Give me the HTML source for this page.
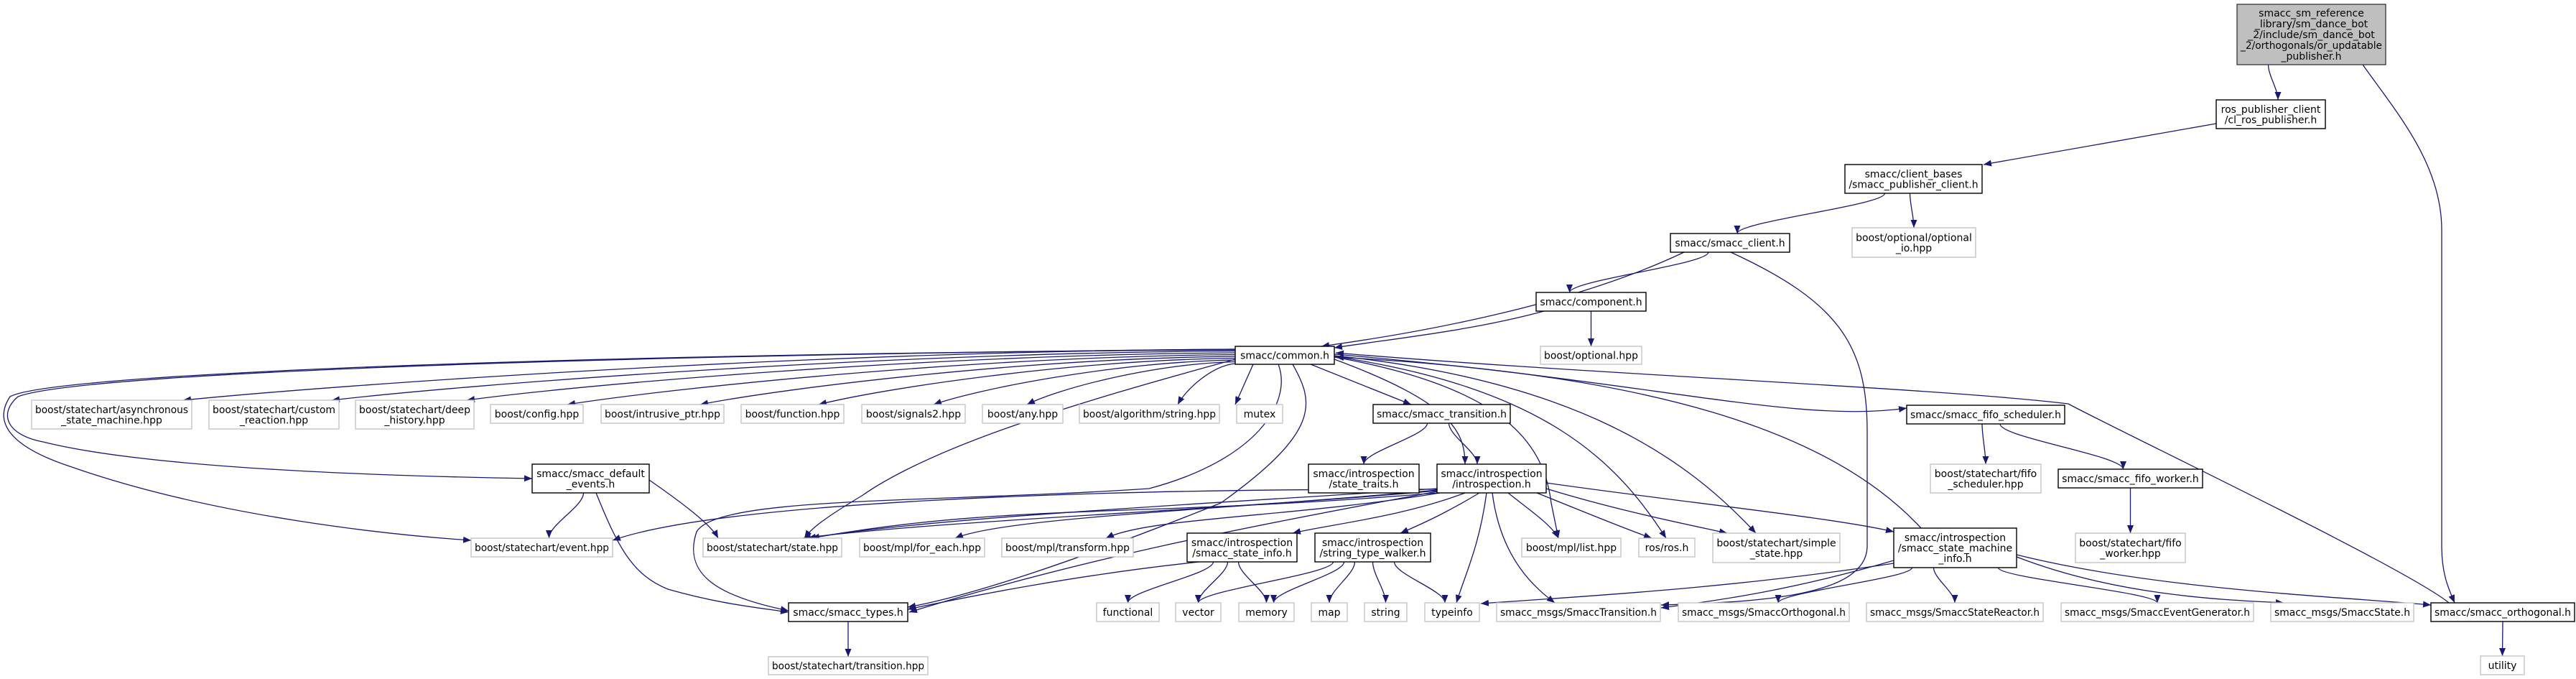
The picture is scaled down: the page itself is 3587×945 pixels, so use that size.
<!DOCTYPE html>
<html><head><meta charset="utf-8"><style>
html,body{margin:0;padding:0;background:#fff;width:3587px;height:945px;overflow:hidden}
svg text{font-family:"DejaVu Sans","Liberation Sans",sans-serif;font-size:14px;fill:#000}
</style></head><body>
<svg id="g" xmlns="http://www.w3.org/2000/svg" width="3587" height="945" viewBox="0 0 3587 945">
<defs><marker id="a" markerUnits="userSpaceOnUse" markerWidth="12" markerHeight="9" refX="11" refY="4.5" orient="auto"><path d="M0,0 L11,4.5 L0,9 z" fill="#191970"/></marker></defs>
<g id="e" fill="none" stroke="#191970" stroke-width="1.3"></g>
<g id="n"></g>
</svg>
<script>
var N={
top:[3115,6,3322,90,["smacc_sm_reference","_library/sm_dance_bot","_2/include/sm_dance_bot","_2/orthogonals/or_updatable","_publisher.h"],'r'],
rospub:[3086,139,3238,179,["ros_publisher_client","/cl_ros_publisher.h"],'b'],
cb:[2569,229,2760,269,["smacc/client_bases","/smacc_publisher_client.h"],'b'],
optio:[2579,317,2751,358,["boost/optional/optional","_io.hpp"],'g'],
client:[2326,325,2492,351,["smacc/smacc_client.h"],'b'],
comp:[2139,407,2292,433,["smacc/component.h"],'b'],
bopt:[2145,482,2286,507,["boost/optional.hpp"],'g'],
common:[1720,482,1858,507,["smacc/common.h"],'b'],
async:[44,557,267,597,["boost/statechart/asynchronous","_state_machine.hpp"],'g'],
custom:[291,557,472,597,["boost/statechart/custom","_reaction.hpp"],'g'],
deep:[495,557,660,597,["boost/statechart/deep","_history.hpp"],'g'],
config:[683,563,812,589,["boost/config.hpp"],'g'],
intr:[837,563,1008,589,["boost/intrusive_ptr.hpp"],'g'],
func:[1032,563,1175,589,["boost/function.hpp"],'g'],
sig:[1200,563,1344,589,["boost/signals2.hpp"],'g'],
any:[1368,563,1480,589,["boost/any.hpp"],'g'],
alg:[1503,563,1698,589,["boost/algorithm/string.hpp"],'g'],
mutex:[1722,563,1786,589,["mutex"],'g'],
trans:[1912,563,2103,589,["smacc/smacc_transition.h"],'b'],
fifos:[2655,564,2875,590,["smacc/smacc_fifo_scheduler.h"],'b'],
traits:[1822,646,1976,686,["smacc/introspection","/state_traits.h"],'b'],
intro:[2001,646,2153,686,["smacc/introspection","/introspection.h"],'b'],
defev:[741,646,904,686,["smacc/smacc_default","_events.h"],'b'],
fifosh:[2688,646,2842,686,["boost/statechart/fifo","_scheduler.hpp"],'g'],
fifow:[2866,653,3067,679,["smacc/smacc_fifo_worker.h"],'b'],
event:[656,749,853,775,["boost/statechart/event.hpp"],'g'],
state:[979,749,1172,775,["boost/statechart/state.hpp"],'g'],
foreach:[1197,749,1371,775,["boost/mpl/for_each.hpp"],'g'],
transform:[1395,749,1578,775,["boost/mpl/transform.hpp"],'g'],
sinfo:[1653,742,1806,782,["smacc/introspection","/smacc_state_info.h"],'b'],
stw:[1831,742,1992,782,["smacc/introspection","/string_type_walker.h"],'b'],
list:[2119,749,2257,775,["boost/mpl/list.hpp"],'g'],
ros:[2282,749,2360,775,["ros/ros.h"],'g'],
simple:[2385,742,2562,783,["boost/statechart/simple","_state.hpp"],'g'],
smi:[2637,735,2808,790,["smacc/introspection","/smacc_state_machine","_info.h"],'b'],
fifowh:[2890,742,3043,783,["boost/statechart/fifo","_worker.hpp"],'g'],
types:[1098,839,1264,865,["smacc/smacc_types.h"],'b'],
functional:[1527,839,1614,865,["functional"],'g'],
vector:[1637,839,1700,865,["vector"],'g'],
memory:[1725,839,1802,865,["memory"],'g'],
map:[1826,839,1876,865,["map"],'g'],
string:[1900,839,1959,865,["string"],'g'],
typeinfo:[1984,839,2060,865,["typeinfo"],'g'],
stt:[2084,839,2312,865,["smacc_msgs/SmaccTransition.h"],'g'],
sor:[2337,839,2575,865,["smacc_msgs/SmaccOrthogonal.h"],'g'],
ssr:[2599,839,2845,865,["smacc_msgs/SmaccStateReactor.h"],'g'],
seg:[2870,839,3138,865,["smacc_msgs/SmaccEventGenerator.h"],'g'],
ss:[3162,839,3361,865,["smacc_msgs/SmaccState.h"],'g'],
orth:[3385,839,3585,865,["smacc/smacc_orthogonal.h"],'b'],
util:[3454,913,3515,939,["utility"],'g'],
trhpp:[1070,914,1292,939,["boost/statechart/transition.hpp"],'g']
};
var NS="http://www.w3.org/2000/svg",eg=document.getElementById('e'),ng=document.getElementById('n');
function el(t,a,p){var e=document.createElementNS(NS,t);for(var k in a)e.setAttribute(k,a[k]);p.appendChild(e);return e;}
function path(d){el('path',{d:d,'marker-end':'url(#a)'},eg);}
function cx(k){var n=N[k];return (n[0]+n[2])/2;}
function down(s,t,ox,tx){var a=N[s],b=N[t];var sx=cx(s)+(ox||0),sy=a[3],ex=cx(t)+(tx||0),ey=b[1];
 path('M'+sx+','+sy+' C'+sx+','+(sy+(ey-sy)*0.3)+' '+ex+','+(ey-(ey-sy)*0.3)+' '+ex+','+ey);}
function line(d){path(d);}
down('top','rospub',-60,10);
line('M3290,90 C3340,160 3400,230 3400,320 L3400,760 C3400,800 3410,820 3418,839');
line('M3086,172 L2762,229');
down('cb','client',-40,10); down('cb','optio',-5,0);
line('M2345,351 C2200,420 2000,460 1840,482');
down('client','comp',-30,-30);
line('M2410,351 C2560,420 2600,480 2600,600 L2600,760 C2600,830 2450,838 2313,842');
line('M2150,433 C2050,460 1950,470 1858,484');
down('comp','bopt',0,0);
var L=[['async',255,557],['custom',462,557],['deep',650,557],['config',790,563],['intr',975,563],['func',1140,563],['sig',1300,563],['any',1430,563],['alg',1640,563]];
L.forEach(function(t,i){var sx=1720,sy=486+i*2.5,d=sx-t[1];
 line('M'+sx+','+sy+' C'+(sx-d*0.4)+','+(sy+3)+' '+(t[1]+d*0.15)+','+(t[2]-22)+' '+t[1]+','+t[2]);});
line('M1745,507 L1720,563');
line('M1720,486 C1000,492 120,515 25,552 C-2,575 8,605 60,615 C200,650 500,662 741,666');
line('M1720,487 C1000,490 80,515 14,552 C-8,585 8,620 100,650 C300,720 550,745 656,752');
line('M1720,500 C1500,560 1300,620 1200,690 C1150,720 1130,735 1120,749');
line('M1800,507 C1830,560 1840,600 1700,700 C1500,780 1350,830 1264,845');
line('M1780,507 C1800,560 1750,640 1600,680 C1300,700 1000,690 970,740 C950,800 1000,830 1098,850');
line('M1825,507 L1965,563');
line('M1858,500 C2020,560 2040,600 2040,646');
line('M1858,497 C2100,540 2150,620 2160,700 L2170,749');
line('M1858,496 C2150,540 2250,640 2320,749');
line('M1858,495 C2200,530 2350,640 2445,742');
line('M1858,493 C2300,530 2500,590 2655,568');
line('M2675,735 C2550,600 2300,520 1860,497');
line('M3410,839 C3350,790 2950,600 2880,562 C2700,540 2200,520 1860,491');
down('trans','traits',-20,0); down('trans','intro',10,-20);
line('M2001,680 C1700,700 1300,720 1125,749');
line('M2001,683 C1700,710 1300,725 1118,749');
line('M2001,686 C1600,720 1400,700 1130,749');
line('M2001,682 C1700,710 1400,720 1330,749');
line('M2005,686 C1800,720 1600,720 1540,749');
line('M2040,686 C1950,720 1850,730 1800,742');
line('M2060,686 C2020,710 1990,725 1950,742');
line('M2070,686 C2060,760 2040,800 2028,839');
line('M2078,686 C2090,780 2140,820 2165,839');
line('M2100,686 C2130,710 2160,730 2170,749');
line('M2140,686 C2200,710 2260,735 2300,749');
line('M2153,680 C2250,710 2350,730 2405,742');
line('M2153,672 C2350,700 2550,720 2637,740');
line('M2001,684 C1700,740 1500,780 1266,852');
line('M2001,681 C1500,680 1000,700 853,752');
down('defev','event',-10,10); line('M904,668 C950,700 990,730 1000,749');
line('M830,686 C860,760 880,800 930,820 C1000,840 1050,845 1098,852');
line('M1670,782 C1500,800 1350,830 1264,848');
down('sinfo','functional',-40,0); down('sinfo','vector',-20,0); down('sinfo','memory',-5,0);
down('stw','vector',-55,0); down('stw','memory',-40,10); down('stw','map',-25,0); down('stw','string',0,0); down('stw','typeinfo',30,-10);
line('M2637,780 C2500,820 2400,835 2313,846');
down('smi','sor',-60,20); down('smi','ssr',-30,0); down('smi','seg',60,0);
line('M2808,775 C2950,830 3100,835 3180,839');
line('M2808,772 C3000,820 3250,830 3385,842');
line('M2637,784 C2400,820 2200,830 2062,840');
down('fifos','fifosh',-5,0); down('fifos','fifow',20,-10); down('fifow','fifowh',0,0);
down('types','trhpp',0,0); down('orth','util',0,0);
for(var k in N){var n=N[k],t=n[5];
 var fill=t=='r'?'#bfbfbf':'#fff',st=t=='g'?'#bfbfbf':(t=='r'?'#404040':'#000');
 el('rect',{x:n[0],y:n[1],width:n[2]-n[0],height:n[3]-n[1],fill:fill,stroke:st,'stroke-width':t=='g'?1.3:1.4},ng);
 var ls=n[4],c=(n[0]+n[2])/2,cy=(n[1]+n[3])/2,lh=t=='r'?15:14.5;
 ls.forEach(function(s,i){var tx=el('text',{x:c,y:cy-(ls.length-1)*lh/2+i*lh+5,'text-anchor':'middle'},ng);tx.textContent=s;
  var w=n[2]-n[0]-10;try{if(tx.getComputedTextLength()>w){tx.setAttribute('textLength',w);tx.setAttribute('lengthAdjust','spacingAndGlyphs');}}catch(e){}});
}
</script>
</body></html>
